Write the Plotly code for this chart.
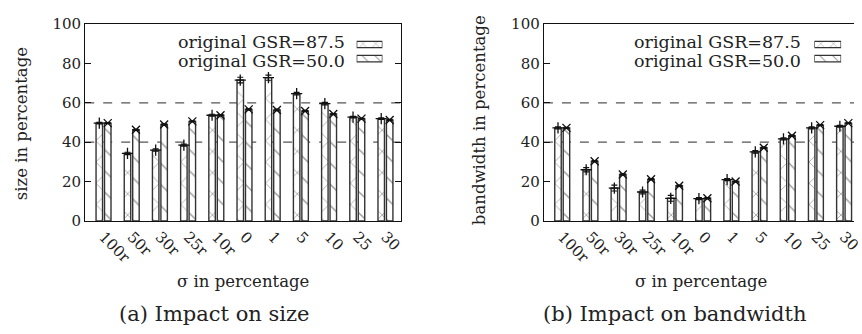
import plotly.graph_objects as go

categories = ["100r", "50r", "30r", "25r", "10r", "0", "1", "5", "10", "25", "30"]
series_names = ["original GSR=87.5", "original GSR=50.0"]

size_gsr875 = [49.7, 34.3, 36.0, 38.5, 53.7, 71.6, 72.8, 64.7, 59.6, 52.7, 52.0]
size_gsr875_err = [0.4, 0.6, 0.6, 0.5, 0.5, 1.4, 1.3, 0.6, 0.6, 0.4, 0.4]
size_gsr500 = [49.7, 46.3, 49.0, 50.6, 53.7, 56.7, 56.4, 55.9, 54.3, 52.0, 51.3]
size_gsr500_err = [0.3, 0.3, 0.3, 0.3, 0.3, 0.4, 0.4, 0.3, 0.3, 0.3, 0.3]

bw_gsr875 = [47.3, 26.0, 16.7, 14.7, 11.5, 11.3, 21.0, 35.1, 41.7, 47.3, 48.1]
bw_gsr875_err = [0.5, 1.1, 1.5, 1.0, 1.5, 0.5, 0.5, 0.6, 0.5, 0.5, 0.5]
bw_gsr500 = [47.3, 30.3, 23.6, 21.2, 17.9, 11.5, 20.0, 37.2, 43.3, 48.7, 49.7]
bw_gsr500_err = [0.3, 0.3, 0.3, 0.3, 0.3, 0.3, 0.3, 0.3, 0.3, 0.3, 0.3]

ref_lines = [40, 60]
y_ticks = [0, 20, 40, 60, 80, 100]

FONT = "DejaVu Serif"
TXT = "#222222"
EDGE = "#333333"
HATCH = "#3a3a3a"
W, H = 862, 334
BAR_W = 0.23
OFF = 0.15

idx = list(range(len(categories)))
fig = go.Figure()

styles = [
    dict(shape="x", marker_symbol="cross-thin-open"),
    dict(shape="\\", marker_symbol="x-thin-open"),
]

panels = [
    ("x", "y", [size_gsr875, size_gsr500], [size_gsr875_err, size_gsr500_err]),
    ("x2", "y2", [bw_gsr875, bw_gsr500], [bw_gsr875_err, bw_gsr500_err]),
]

for xa, ya, vals, errs in panels:
    for s, (v, e) in enumerate(zip(vals, errs)):
        off = -OFF if s == 0 else OFF
        xs = [i + off for i in idx]
        fig.add_trace(go.Bar(
            x=xs, y=v, width=BAR_W, xaxis=xa, yaxis=ya, showlegend=False,
            name=series_names[s],
            marker=dict(color="white", line=dict(color=EDGE, width=1.4),
                        pattern=dict(shape=styles[s]["shape"], size=15, solidity=0.1,
                                     fgcolor=HATCH, bgcolor="white")),
        ))
        fig.add_trace(go.Scatter(
            x=xs, y=v, xaxis=xa, yaxis=ya, mode="markers", showlegend=False,
            marker=dict(symbol=styles[s]["marker_symbol"], size=8,
                        line=dict(color="#111", width=1.3), color="#111"),
            error_y=dict(type="data", array=e, visible=True, color="#111",
                         thickness=1.2, width=3),
        ))

# legend swatches on small helper axes
for k, (xd, yd) in enumerate([
    ([360 / W, 386 / W], [1 - 60 / H, 1 - 30 / H]),
    ([822 / W, 849 / W], [1 - 60 / H, 1 - 30 / H]),
]):
    xa, ya = "x%d" % (k + 3), "y%d" % (k + 3)
    for s in range(2):
        fig.add_trace(go.Bar(
            y=[1 - s], x=[1], orientation="h", width=0.45, xaxis=xa, yaxis=ya,
            showlegend=False, hoverinfo="skip",
            marker=dict(color="white", line=dict(color=EDGE, width=1.3),
                        pattern=dict(shape=styles[s]["shape"], size=9, solidity=0.12,
                                     fgcolor=HATCH, bgcolor="white")),
        ))
    fig.layout["xaxis%d" % (k + 3)] = dict(domain=xd, range=[0, 1], visible=False,
                                          anchor=ya)
    fig.layout["yaxis%d" % (k + 3)] = dict(domain=yd, range=[-0.5, 1.5], visible=False,
                                          anchor=xa)

axis_common = dict(showline=True, linecolor="#111", linewidth=1.3, zeroline=False,
                   showgrid=False)
ydom = [1 - 224 / H, 1 - 16 / H]
tickfont = dict(family=FONT, size=15, color=TXT)

fig.update_layout(
    width=W, height=H, margin=dict(l=0, r=0, t=0, b=0),
    paper_bgcolor="white", plot_bgcolor="white",
    barmode="overlay", showlegend=False,
    font=dict(family=FONT, size=15, color=TXT),
    xaxis=dict(domain=[86 / W, 405 / W], range=[-0.65, 10.56], tickvals=idx,
               ticktext=categories, tickangle=45, ticks="", mirror=True,
               tickfont=tickfont, ticklabeloverflow="allow",
               anchor="y", **axis_common),
    yaxis=dict(domain=ydom, range=[0, 100], tickvals=y_ticks, ticks="inside",
               ticklen=6, tickcolor="#111", mirror="ticks", tickfont=tickfont,
               anchor="x", **axis_common),
    xaxis2=dict(domain=[549 / W, 1.0], range=[-0.65, -0.65 + 313 / 28.45], tickvals=idx,
                ticktext=categories, tickangle=45, ticks="", mirror=True,
                tickfont=tickfont, ticklabeloverflow="allow",
                anchor="y2", **axis_common),
    yaxis2=dict(domain=ydom, range=[0, 100], tickvals=y_ticks, ticks="inside",
                ticklen=6, tickcolor="#111", mirror=False, tickfont=tickfont,
                anchor="x2", **axis_common),
)

for xr in ["x", "x2"]:
    for yv in ref_lines:
        fig.add_shape(type="line", xref=xr + " domain", yref=xr.replace("x", "y"),
                      x0=0, x1=1, y0=yv, y1=yv, layer="below",
                      line=dict(color="#555", width=1.2, dash="dash"))

for x, y, t in [
    (350 / W, 1 - 35 / H, series_names[0]),
    (350 / W, 1 - 55 / H, series_names[1]),
    (811 / W, 1 - 35 / H, series_names[0]),
    (811 / W, 1 - 55 / H, series_names[1]),
]:
    fig.add_annotation(x=x, y=y, xref="paper", yref="paper", text=t, showarrow=False,
                       xanchor="right", yanchor="middle",
                       font=dict(size=17.5, family=FONT, color=TXT))

for x, y, t, fs in [
    (245 / W, 1 - 288 / H, "σ in percentage", 16.5),
    (708 / W, 1 - 288 / H, "σ in percentage", 16.5),
    (216 / W, 1 - 322 / H, "(a) Impact on size", 21),
    (681 / W, 1 - 322 / H, "(b) Impact on bandwidth", 21),
]:
    fig.add_annotation(x=x, y=y, xref="paper", yref="paper", text=t, showarrow=False,
                       xanchor="center", yanchor="middle",
                       font=dict(size=fs, family=FONT, color=TXT))

fig.add_annotation(x=22 / W, y=1 - 121 / H, xref="paper", yref="paper",
                   text="size in percentage", textangle=-90, showarrow=False,
                   xanchor="center", yanchor="middle",
                   font=dict(size=16.5, family=FONT, color=TXT))
fig.add_annotation(x=484 / W, y=1 - 118 / H, xref="paper", yref="paper",
                   text="bandwidth in percentage", textangle=-90, showarrow=False,
                   xanchor="center", yanchor="middle",
                   font=dict(size=16.5, family=FONT, color=TXT))

fig.write_html("out.html")
